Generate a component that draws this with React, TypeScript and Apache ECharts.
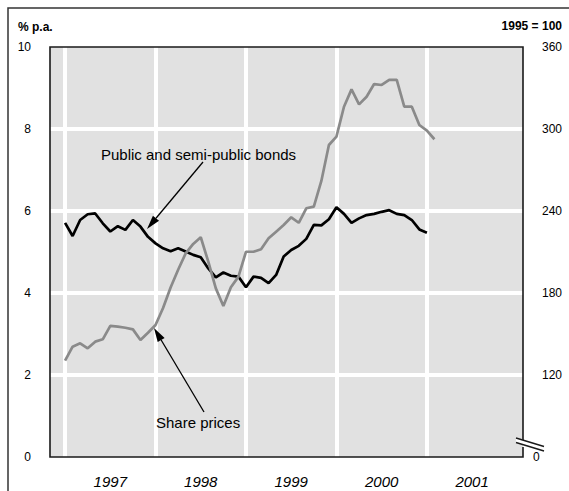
import React, { useEffect, useRef } from "react";
import * as echarts from "echarts";

// Month index 0 = January 1997
const bondYields = [
  5.71, 5.39, 5.78, 5.92, 5.94, 5.7, 5.5, 5.63, 5.54, 5.78, 5.62, 5.37,
  5.21, 5.09, 5.02, 5.09, 5.01, 4.93, 4.87, 4.6, 4.38, 4.5, 4.42, 4.4,
  4.14, 4.4, 4.37, 4.24, 4.44, 4.89, 5.05, 5.15, 5.32, 5.66, 5.65, 5.8,
  6.09, 5.93, 5.71, 5.82, 5.9, 5.93, 5.98, 6.02, 5.93, 5.9, 5.78, 5.55,
  5.47,
];
const sharePrices = [
  130.5, 140.7, 143.2, 139.5, 144.4, 146.1, 155.9, 155.4, 154.6, 153.4, 145.6, 150.9,
  156.6, 169, 184, 197, 209, 215.9, 220.8, 202.9, 183.4, 170.5, 184.2, 192,
  210.2, 210.2, 212, 220, 224.9, 229.8, 235.4, 231.4, 242, 243.2, 262, 288.3,
  294.4, 316.3, 329, 318, 323.6, 332.9, 332.2, 335.9, 335.9, 316.3, 316.3, 302.9,
  298.8, 292.5,
];
const yearStarts = [0, 12, 24, 36, 48];
const yearLabelPositions = [6, 18, 30, 42, 54];
const yearLabels = ["1997", "1998", "1999", "2000", "2001"];
const leftTicks = [0, 2, 4, 6, 8, 10];
const rightTicks = [60, 120, 180, 240, 300, 360];

const FONT = "'Liberation Sans', Arial, Helvetica, sans-serif";
const DARK = "#1a1a1a";

function arrow(tail: number[], tip: number[], len = 14, half = 4) {
  const dx = tip[0] - tail[0];
  const dy = tip[1] - tail[1];
  const L = Math.sqrt(dx * dx + dy * dy);
  const ux = dx / L;
  const uy = dy / L;
  const bx = tip[0] - len * ux;
  const by = tip[1] - len * uy;
  const px = -uy * half;
  const py = ux * half;
  return [
    {
      type: "line",
      z: 100,
      silent: true,
      shape: { x1: tail[0], y1: tail[1], x2: bx, y2: by },
      style: { stroke: "#000", lineWidth: 1.3 },
    },
    {
      type: "polygon",
      z: 100,
      silent: true,
      shape: { points: [tip, [bx + px, by + py], [bx - px, by - py]] },
      style: { fill: "#000" },
    },
  ];
}

export default function App() {
  const ref = useRef<HTMLDivElement>(null);
  useEffect(() => {
    if (!ref.current) return;
    const chart = echarts.init(ref.current, null, { renderer: "svg" });
    const left = 50, top = 47, right = 523, bottom = 457;
    chart.setOption({
      animation: false,
      backgroundColor: "#fff",
      grid: {
        left: left,
        top: top,
        right: 569 - right,
        bottom: 491 - bottom,
        show: true,
        backgroundColor: "#e1e1e1",
        borderWidth: 0,
      },
      xAxis: {
        type: "value",
        min: -2,
        max: 60.75,
        axisLine: { show: false },
        axisTick: { show: false },
        splitLine: { show: false },
        axisLabel: {
          customValues: yearLabelPositions,
          formatter: (v: number) => yearLabels[yearLabelPositions.indexOf(v)] ?? "",
          fontFamily: FONT,
          fontSize: 15,
          fontStyle: "italic",
          color: "#000",
          margin: 17,
        },
      },
      yAxis: [
        {
          type: "value",
          min: leftTicks[0],
          max: leftTicks[leftTicks.length - 1],
          interval: 2,
          axisLine: { show: false },
          axisTick: { show: false },
          splitLine: {
            show: true,
            showMinLine: false,
            showMaxLine: false,
            lineStyle: { color: "#fff", width: 4 },
          },
          axisLabel: {
            fontFamily: FONT,
            fontSize: 12,
            color: "#000",
            margin: 19,
            padding: [4, 0, 0, 0],
          },
        },
        {
          type: "value",
          position: "right",
          min: rightTicks[0],
          max: rightTicks[rightTicks.length - 1],
          interval: 60,
          axisLine: { show: false },
          axisTick: { show: false },
          splitLine: { show: false },
          axisLabel: {
            fontFamily: FONT,
            fontSize: 12,
            color: "#000",
            margin: 19,
            padding: [4, 0, 0, 0],
            formatter: (v: number) => (v === rightTicks[0] ? "" : String(v)),
          },
        },
      ],
      series: [
        {
          type: "line",
          data: [],
          z: 1,
          silent: true,
          markLine: {
            silent: true,
            z: 1,
            symbol: ["none", "none"],
            label: { show: false },
            lineStyle: { color: "#fff", width: 4, type: "solid" },
            data: yearStarts.map((m) => ({ xAxis: m })),
          },
        },
        {
          name: "Public and semi-public bonds",
          type: "line",
          yAxisIndex: 0,
          z: 3,
          data: bondYields.map((v, i) => [i, v]),
          showSymbol: false,
          lineStyle: { color: "#000", width: 2.7 },
        },
        {
          name: "Share prices",
          type: "line",
          yAxisIndex: 1,
          z: 3,
          data: sharePrices.map((v, i) => [i, v]),
          showSymbol: false,
          lineStyle: { color: "#8a8a8a", width: 2.7 },
        },
      ],
      graphic: [
        {
          type: "polyline",
          z: 100,
          silent: true,
          shape: { points: [[8, 491], [8, 8], [569, 8]] },
          style: { stroke: "#333", lineWidth: 1.5, fill: null },
        },
        {
          type: "polyline",
          z: 100,
          silent: true,
          shape: {
            points: [[right, 440], [right, top], [left, top], [left, bottom], [right, bottom], [right, 447]],
          },
          style: { stroke: DARK, lineWidth: 1.6, fill: null },
        },
        {
          type: "polygon",
          z: 100,
          silent: true,
          shape: { points: [[516, 438], [544, 446.5], [544, 451], [516, 442.5]] },
          style: { fill: "#fff" },
        },
        {
          type: "line",
          z: 101,
          silent: true,
          shape: { x1: 516, y1: 438, x2: 544, y2: 446.5 },
          style: { stroke: DARK, lineWidth: 1.4 },
        },
        {
          type: "line",
          z: 101,
          silent: true,
          shape: { x1: 516, y1: 442.5, x2: 544, y2: 451 },
          style: { stroke: DARK, lineWidth: 1.4 },
        },
        {
          type: "text",
          z: 100,
          silent: true,
          x: 533,
          y: 457,
          style: { text: "0", font: `12px ${FONT}`, fill: "#000", verticalAlign: "middle", align: "left" },
        },
        {
          type: "text",
          z: 100,
          silent: true,
          x: 18,
          y: 27,
          style: { text: "% p.a.", font: `bold 12px ${FONT}`, fill: "#000", verticalAlign: "middle" },
        },
        {
          type: "text",
          z: 100,
          silent: true,
          x: 562,
          y: 26,
          style: { text: "1995 = 100", font: `bold 12px ${FONT}`, fill: "#000", verticalAlign: "middle", align: "right" },
        },
        {
          type: "text",
          z: 100,
          silent: true,
          x: 101,
          y: 154,
          style: { text: "Public and semi-public bonds", font: `15px ${FONT}`, fill: "#000", verticalAlign: "middle" },
        },
        {
          type: "text",
          z: 100,
          silent: true,
          x: 156,
          y: 422,
          style: { text: "Share prices", font: `15px ${FONT}`, fill: "#000", verticalAlign: "middle" },
        },
        ...arrow([203, 162], [147, 229]),
        ...arrow([204, 412], [154, 328]),
      ],
    });
    return () => chart.dispose();
  }, []);
  return (
    <div
      ref={ref}
      style={{ position: "absolute", left: 0, top: 0, width: 569, height: 491 }}
    />
  );
}
